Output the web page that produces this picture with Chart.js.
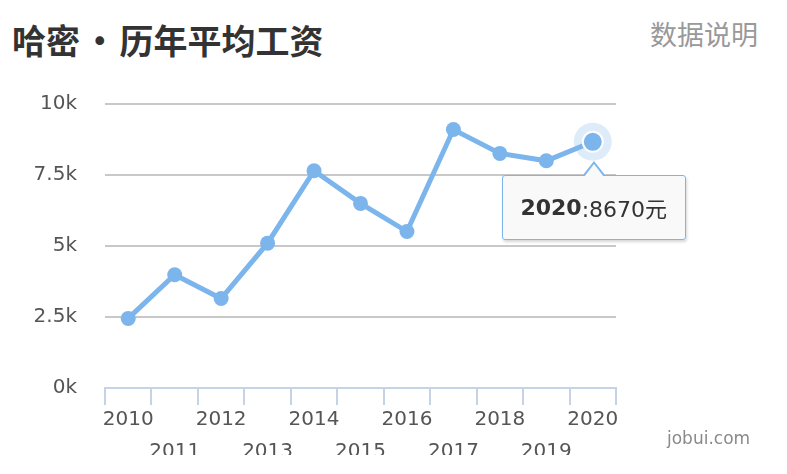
<!DOCTYPE html>
<html>
<head>
<meta charset="utf-8">
<title>哈密 • 历年平均工资</title>
<script src="https://cdn.jsdelivr.net/npm/chart.js@4.4.1/dist/chart.umd.min.js"></script>
<style>
  body { margin: 0; background: #fff; }
  #wrap { position: relative; width: 787px; height: 474px; overflow: hidden; font-family: "DejaVu Sans", "Noto Sans CJK SC", sans-serif; }
  #title { position: absolute; left: 12px; top: 20px; line-height: 40px; font-size: 34px; font-weight: bold; color: #333; font-family: "Noto Sans CJK SC", sans-serif; white-space: pre; word-spacing: -5px; }
  #note { position: absolute; right: 29px; top: 17px; line-height: 34px; font-size: 27px; color: #999; font-family: "Noto Sans CJK SC", sans-serif; }
  #mark { position: absolute; left: 667px; top: 428px; font-size: 17px; color: #8a8a8a; }
  #chart { position: absolute; left: 0; top: 0; }
  #tip {
    position: absolute; box-sizing: border-box; width: 184px; height: 65px;
    background: rgba(249, 249, 249, 0.97); border: 1.5px solid #7cb5ec; border-radius: 3px;
    box-shadow: 1px 2px 3px rgba(0, 0, 0, 0.16);
    display: flex; align-items: center; justify-content: center;
    font-size: 22px; color: #333; white-space: nowrap;
  }
  #tip::before, #tip::after { content: ""; position: absolute; left: 50%; width: 0; height: 0; }
  #tip::before { top: -15px; margin-left: -11px; border-left: 11px solid transparent; border-right: 11px solid transparent; border-bottom: 14px solid #7cb5ec; }
  #tip::after { top: -12px; margin-left: -10px; border-left: 10px solid transparent; border-right: 10px solid transparent; border-bottom: 13px solid #f9f9f9; }
</style>
</head>
<body>
<div id="wrap">
  <div id="title">哈密 • 历年平均工资</div>
  <div id="note">数据说明</div>
  <canvas id="chart" width="787" height="455"></canvas>
  <div id="mark">jobui.com</div>
  <div id="tip"></div>
</div>
<script>
// chart data
const years = ["2010", "2011", "2012", "2013", "2014", "2015", "2016", "2017", "2018", "2019", "2020"];
const wages = [2450, 3990, 3150, 5100, 7650, 6500, 5510, 9100, 8260, 8000, 8670];
const yTicks = [0, 2500, 5000, 7500, 10000];
const yTickLabels = ["0k", "2.5k", "5k", "7.5k", "10k"];
const hoverIndex = 10;
const unit = "元";

const lineColor = "#7cb5ec";
const axisFont = { family: "DejaVu Sans", size: 20, lineHeight: "16px" };

// light halo behind the hovered point
const haloPlugin = {
  id: "halo",
  beforeDatasetsDraw(chart) {
    const pt = chart.getDatasetMeta(0).data[hoverIndex];
    const ctx = chart.ctx;
    ctx.save();
    ctx.fillStyle = "rgba(124,181,236,0.25)";
    ctx.beginPath();
    ctx.arc(pt.x, pt.y, 19, 0, Math.PI * 2);
    ctx.fill();
    ctx.restore();
  },
};

const chart = new Chart(document.getElementById("chart"), {
  type: "line",
  data: {
    labels: years,
    datasets: [
      {
        data: wages,
        borderColor: lineColor,
        backgroundColor: lineColor,
        borderWidth: 5,
        tension: 0,
        pointRadius: 7.5,
        pointBorderWidth: 0,
        pointBackgroundColor: lineColor,
        pointHoverRadius: 10,
        pointHoverBorderWidth: 2,
        pointHoverBorderColor: "#fff",
        pointHoverBackgroundColor: lineColor,
      },
    ],
  },
  options: {
    responsive: false,
    animation: false,
    events: [],
    layout: { padding: { top: 104, right: 171, left: 0, bottom: 0 } },
    plugins: {
      legend: { display: false },
      tooltip: { enabled: false },
    },
    scales: {
      x: {
        type: "category",
        offset: true,
        afterFit: (scale) => { scale.height = 67; },
        grid: {
          offset: true,
          drawOnChartArea: false,
          drawTicks: true,
          tickLength: 17,
          color: "#c6d3e6",
          lineWidth: 2,
        },
        border: { color: "#c6d3e6", width: 2 },
        ticks: {
          autoSkip: false,
          maxRotation: 0,
          minRotation: 0,
          padding: 7,
          color: "#555",
          font: axisFont,
          // odd years go on a second row
          callback: function (value, index) {
            const label = this.getLabelForValue(value);
            return index % 2 === 0 ? label : ["", "", label];
          },
        },
      },
      y: {
        min: 0,
        max: 10000,
        afterFit: (scale) => { scale.width = 105; },
        grid: {
          drawTicks: false,
          lineWidth: 2,
          color: (ctx) => (ctx.tick && ctx.tick.value === 0 ? "rgba(0,0,0,0)" : "#c8c8c8"),
        },
        border: { display: false },
        ticks: {
          stepSize: 2500,
          padding: 28,
          color: "#555",
          font: { family: "DejaVu Sans", size: 20 },
          callback: (v) => yTickLabels[yTicks.indexOf(v)],
        },
      },
    },
  },
  plugins: [haloPlugin],
});

chart.setActiveElements([{ datasetIndex: 0, index: hoverIndex }]);
chart.update();

// place the tooltip under the hovered point
const pt = chart.getDatasetMeta(0).data[hoverIndex];
const tip = document.getElementById("tip");
tip.innerHTML = `<b>${years[hoverIndex]}</b>:${wages[hoverIndex]}${unit}`;
tip.style.left = pt.x - 91 + "px";
tip.style.top = pt.y + 33 + "px";
</script>
</body>
</html>
